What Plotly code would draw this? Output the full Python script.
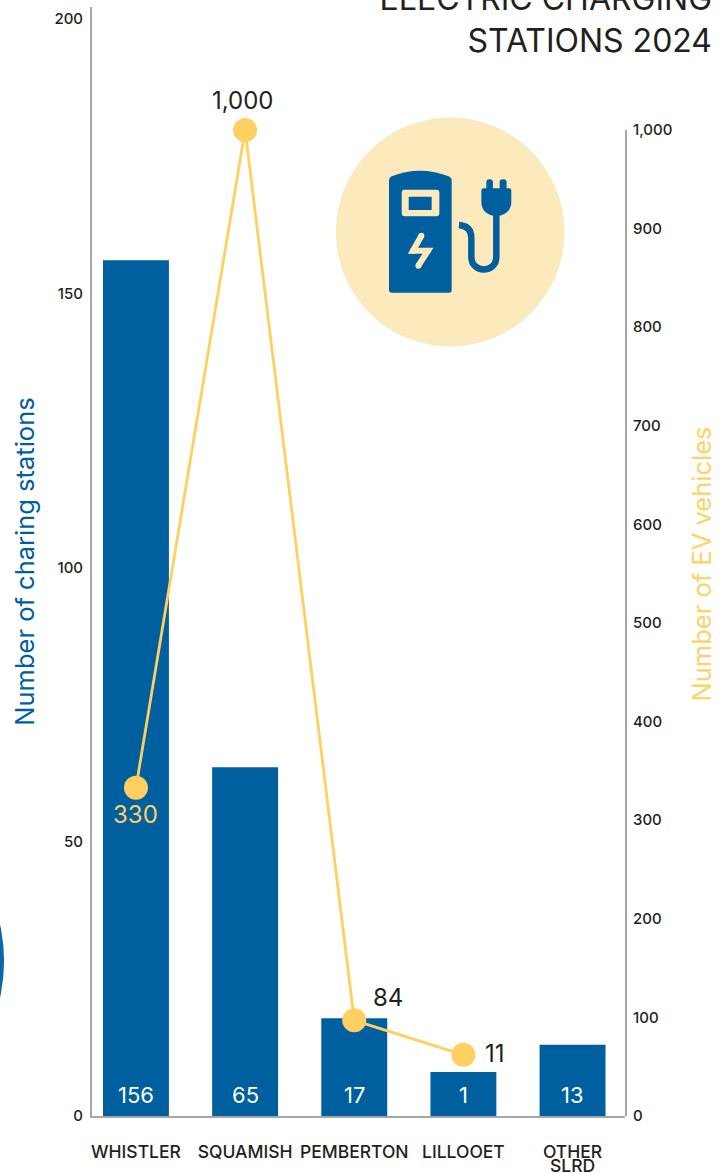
import plotly.graph_objects as go

categories = ["WHISTLER", "SQUAMISH", "PEMBERTON", "LILLOOET", "OTHER SLRD"]
category_tick_text = ["WHISTLER", "SQUAMISH", "PEMBERTON", "LILLOOET", "OTHER"]
stations_drawn = [156, 63.6, 17.8, 8, 13]
station_labels = ["156", "65", "17", "1", "13"]
vehicle_categories = ["WHISTLER", "SQUAMISH", "PEMBERTON", "LILLOOET"]
vehicles_drawn = [333, 1000, 97, 62]
vehicle_labels = ["330", "1,000", "84", "11"]
left_ticks = [0, 50, 100, 150, 200]
right_ticks = [0, 100, 200, 300, 400, 500, 600, 700, 800, 900, 1000]
right_tick_labels = ["0", "100", "200", "300", "400", "500", "600", "700", "800", "900", "1,000"]

W, H = 726, 1173
PL, PR, PT, PB = 92, 625.5, 7, 1116
BLUE = "#005F9F"
YEL = "#FFD05F"
CREAM = "#FCE9BC"
INK = "#231F20"
GRAY = "#A6A6A6"
FONT = "Inter"


def px(x):
    return (x - PL) / (PR - PL)


def py(y):
    return (PB - y) / (PB - PT)


def path(cmds):
    out = []
    for c in cmds:
        out.append(c[0] + " " + " ".join(
            f"{px(c[i]):.5f},{py(c[i + 1]):.5f}" for i in range(1, len(c), 2)))
    return " ".join(out)


def pshape(cmds, fill=None, line=None, width=0, close=True):
    return dict(type="path", xref="paper", yref="paper", layer="above",
                path=path(cmds) + (" Z" if close else ""),
                fillcolor=fill if fill else "rgba(0,0,0,0)",
                line=dict(color=line if line else "rgba(0,0,0,0)", width=width))


def circ(cx, cy, r, fill):
    return dict(type="circle", xref="paper", yref="paper", layer="above",
                x0=px(cx - r), x1=px(cx + r), y0=py(cy + r), y1=py(cy - r),
                fillcolor=fill, line=dict(width=0))


def rrect(x0, y0, x1, y1, r, fill):
    return pshape([("M", x0 + r, y0), ("L", x1 - r, y0), ("Q", x1, y0, x1, y0 + r),
                   ("L", x1, y1 - r), ("Q", x1, y1, x1 - r, y1), ("L", x0 + r, y1),
                   ("Q", x0, y1, x0, y1 - r), ("L", x0, y0 + r), ("Q", x0, y0, x0 + r, y0)], fill=fill)


shapes = [
    circ(-164, 961, 168, "#0A69A6"),
    circ(450.5, 232, 114.5, CREAM),
    # pump body
    pshape([("M", 389.3, 180), ("Q", 389.3, 177.5, 391.5, 176.5), ("Q", 420, 165, 449.5, 176.5),
            ("Q", 452, 177.5, 452, 180), ("L", 452, 290), ("Q", 452, 292.7, 449.5, 292.7),
            ("L", 392, 292.7), ("Q", 389.3, 292.7, 389.3, 290)], fill=BLUE),
    rrect(402, 189.7, 439.7, 216.3, 3, CREAM),
    rrect(409, 196.7, 432, 210, 0.1, BLUE),
    # bolt
    pshape([("M", 421.7, 235.7), ("L", 413.3, 250.7), ("L", 428.3, 250.7), ("L", 418.7, 265.7)],
           line=CREAM, width=6, close=False),
    circ(421.7, 235.7, 3, CREAM),
    circ(413.3, 250.7, 3, CREAM),
    circ(428.3, 250.7, 3, CREAM),
    circ(418.7, 265.7, 3, CREAM),
    # cable
    pshape([("M", 459.3, 225), ("Q", 471.7, 226, 471.7, 238), ("L", 471.7, 257),
            ("C", 471.7, 273.5, 496.7, 273.5, 496.7, 257), ("L", 496.7, 212)],
           line=BLUE, width=6.5, close=False),
    # plug
    pshape([("M", 481.7, 191), ("Q", 481.7, 188.3, 484, 188.3), ("L", 509.5, 188.3),
            ("Q", 511.7, 188.3, 511.7, 191), ("L", 511.7, 202),
            ("C", 511.7, 210.5, 505, 216, 496.7, 216), ("C", 488, 216, 481.7, 210.5, 481.7, 202)], fill=BLUE),
    rrect(486.7, 179.3, 493.3, 192, 3.2, BLUE),
    rrect(500, 179.3, 507, 192, 3.2, BLUE),
]

fig = go.Figure()
fig.add_trace(go.Bar(x=categories, y=stations_drawn, width=0.604, marker=dict(color=BLUE, line=dict(width=0)),
                     yaxis="y", showlegend=False))
fig.add_trace(go.Scatter(x=vehicle_categories, y=vehicles_drawn, yaxis="y2", mode="lines+markers",
                         line=dict(color=YEL, width=2.8),
                         marker=dict(color=YEL, size=24, line=dict(width=0)),
                         cliponaxis=False, showlegend=False))

annotations = [
    dict(x=c, y=0, xref="x", yref="y", text=t, showarrow=False, yanchor="bottom", yshift=6,
         font=dict(family=FONT, size=22, color="white"))
    for c, t in zip(categories, station_labels)
]
label_shifts = [(0, 27), (-2, -30), (34, -23), (32, -1)]
label_colors = [YEL, INK, INK, INK]
for c, v, t, (dx, dy), col in zip(vehicle_categories, vehicles_drawn, vehicle_labels, label_shifts, label_colors):
    annotations.append(dict(x=c, y=v, xref="x", yref="y2", text=t, showarrow=False,
                            xanchor="center", yanchor="middle", xshift=dx, yshift=-dy,
                            font=dict(family=FONT, size=24, color=col)))
annotations.append(dict(xref="paper", yref="paper", x=px(702), y=py(564), text="Number of EV vehicles",
                        xanchor="center", yanchor="middle",
                        textangle=-90, showarrow=False, font=dict(family=FONT, size=25.5, color="#FFD266")))
annotations.append(dict(x=categories[4], y=0, xref="x", yref="y", text="SLRD", showarrow=False,
                        yanchor="middle", yshift=-49.5,
                        font=dict(family=FONT, size=17.5, color=INK, weight=500)))

unit = 109.25
fig.update_layout(
    width=W, height=H, autosize=False,
    margin=dict(l=PL, r=W - PR, t=PT, b=H - PB, pad=0),
    paper_bgcolor="white", plot_bgcolor="rgba(0,0,0,0)",
    title=dict(text="ELECTRIC CHARGING<br>STATIONS 2024", automargin=False,
               xref="container", yref="container", x=712 / W, xanchor="right",
               y=1 - 10 / H, yanchor="bottom",
               font=dict(family=FONT, size=32, color=INK)),
    xaxis=dict(type="category", categoryorder="array", categoryarray=categories, automargin=False,
               tickvals=categories, ticktext=category_tick_text,
               range=[(PL - 136) / unit, (PR - 136) / unit], showgrid=False, zeroline=False,
               showline=True, linecolor=GRAY, linewidth=2, ticks="",
               ticklabelstandoff=19, tickangle=0,
               tickfont=dict(family=FONT, size=17.5, color=INK, weight=500)),
    yaxis=dict(range=[0, (PB - PT) / 5.485], tickvals=left_ticks, showgrid=False, zeroline=False,
               automargin=False,
               showline=True, linecolor=GRAY, linewidth=2, ticks="", ticklabelstandoff=4,
               tickfont=dict(family=FONT, size=15, color=INK, weight=500),
               title=dict(text="Number of charing stations", standoff=12,
                          font=dict(family=FONT, size=25.5, color=BLUE))),
    yaxis2=dict(anchor="x", side="right", domain=[0, (PB - 130) / (PB - PT)], range=[0, 1000],
                tickvals=right_ticks, ticktext=right_tick_labels, showgrid=False, zeroline=False,
                automargin=False,
                showline=True, linecolor=GRAY, linewidth=2, ticks="", ticklabelstandoff=3,
                tickfont=dict(family=FONT, size=15, color=INK, weight=500)),
    shapes=shapes,
    annotations=annotations,
)

fig.write_html("out.html", config=dict(displayModeBar=False),
               post_script="document.body.style.margin='0';document.documentElement.style.overflow='hidden';")
